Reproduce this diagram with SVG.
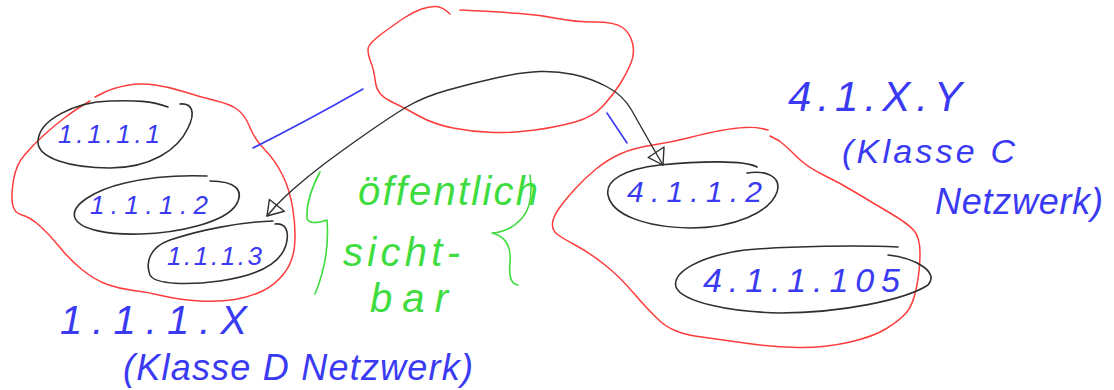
<svg xmlns="http://www.w3.org/2000/svg" width="1114" height="390" viewBox="0 0 1114 390">
  <style>
    .net { fill: none; stroke: #ff3c3c; stroke-width: 1.5; stroke-linecap: round; stroke-linejoin: round; }
    .host { fill: none; stroke: #2f2f2f; stroke-width: 1.6; stroke-linecap: round; stroke-linejoin: round; }
    .link { fill: none; stroke: #3a3af2; stroke-width: 1.6; stroke-linecap: round; }
    .route { fill: none; stroke: #2f2f2f; stroke-width: 1.4; stroke-linecap: round; stroke-linejoin: round; }
    .brace { fill: none; stroke: #3fdc3f; stroke-width: 1.6; stroke-linecap: round; stroke-linejoin: round; }
    .ip { font-family: "Liberation Sans", Arial, sans-serif; font-style: italic; fill: #3a3af2; }
    .note { font-family: "Liberation Sans", Arial, sans-serif; font-style: italic; fill: #3fdc3f; }
  </style>
  <defs>
    <marker id="open-head" markerUnits="userSpaceOnUse" markerWidth="30" markerHeight="30" viewBox="-20 -15 30 30" refX="0" refY="0" orient="auto-start-reverse">
      <path d="M0,0 L-15,-10 L-14,9 Z" fill="none" stroke="#2f2f2f" stroke-width="1.4" stroke-linejoin="round"/>
    </marker>
  </defs>

  <!-- left network 1.1.1.X -->
  <g id="net-1-1-1-x">
    <path class="net" d="M95,97 L104,92.5 Q113,88 126.5,85.5 Q140,83 155,85 Q170,87 185,92 Q200,97 215,100.5 Q230,104 237.5,109.5 Q245,115 250,127.5 Q255,140 265,150 Q275,160 282.5,175 Q290,190 293,210 Q296,230 294.5,246 Q293,262 284,273.5 Q275,285 262.5,291 Q250,297 235,299.5 Q220,302 200,301 Q180,300 163.5,296 Q147,292 133.5,290.5 Q120,289 107.5,284.5 Q95,280 82.5,270 Q70,260 60,247.5 Q50,235 40,226 Q30,217 22,215 Q14,213 12.5,204 Q11,195 13.5,180 Q16,165 24.5,155 Q33,145 44,135 Q55,125 65,117.5 Q75,110 82.5,105.5 L90,101"/>
    <text class="ip" x="60" y="334" font-size="40" textLength="187" lengthAdjust="spacing">1.1.1.X</text>
    <text class="ip" x="123" y="380" font-size="36" textLength="350" lengthAdjust="spacing">(Klasse D Netzwerk)</text>
  </g>

  <g id="host-1-1-1-1">
    <path class="host" d="M180,104 C192,103 196,112 188,128 C178,150 150,168 110,168 C70,168 38,158 38,142 C38,120 75,102 110,101 C135,100 152,101 168,107"/>
    <text class="ip" x="58" y="143" font-size="26" textLength="102" lengthAdjust="spacing">1.1.1.1</text>
  </g>
  <g id="host-1-1-1-2">
    <path class="host" d="M207,176 C180,175 150,177 125,183 C95,190 70,205 75,218 C80,230 110,235 140,234 C180,233 225,222 236,205 C245,190 235,181 210,181"/>
    <text class="ip" x="90" y="214" font-size="26" textLength="118" lengthAdjust="spacing">1.1.1.2</text>
  </g>
  <g id="host-1-1-1-3">
    <path class="host" d="M273,221 C240,222 200,230 170,240 C150,247 145,262 150,275 C155,285 190,285 220,281 C255,276 280,265 286,245 C290,230 285,223 275,224"/>
    <text class="ip" x="167" y="265" font-size="26" textLength="95" lengthAdjust="spacing">1.1.1.3</text>
  </g>

  <!-- public network in the middle -->
  <g id="net-public">
    <path class="net" d="M450,14 Q443,7 436.5,6.5 Q430,6 421.5,9 Q413,12 404,18 Q395,24 381.5,34 Q368,44 368,49.5 Q368,55 371,62.5 Q374,70 375.5,82.5 Q377,95 391,101.5 Q405,108 419,116 Q433,124 453,128 Q473,132 493,132.5 Q513,133 535,130 Q557,127 575,122 Q593,117 603,106 Q613,95 620,84 Q627,73 631,63 Q635,53 632.5,43 Q630,33 622.5,27.5 Q615,22 595,22 Q575,22 557.5,18.5 Q540,15 520,13.5 Q500,12 480,11 L460,10"/>
  </g>

  <g id="public-note">
    <path class="brace" d="M320,172 Q306,198 307,218 Q309,226 327,220 Q330,258 315,294"/>
    <path class="brace" d="M530,175 Q534,205 522,218 Q510,232 492,233 Q512,238 510,262 Q508,284 518,285"/>
    <text class="note" x="358" y="205" font-size="40" textLength="180" lengthAdjust="spacing">öffentlich</text>
    <text class="note" x="343" y="266" font-size="40" textLength="117" lengthAdjust="spacing">sicht-</text>
    <text class="note" x="370" y="312" font-size="40" textLength="78" lengthAdjust="spacing">bar</text>
  </g>

  <!-- right network 4.1.X.Y -->
  <g id="net-4-1-x-y">
    <path class="net" d="M768,130 L761.5,128.5 Q755,127 745,127.5 Q735,128 721,130.5 Q707,133 690,137.5 Q673,142 653,145 Q633,148 620,154 Q607,160 596,169 Q585,178 575,189 Q565,200 559,208.5 Q553,217 552.5,223.5 Q552,230 557,234 Q562,238 576,245.5 Q590,253 605,265 Q620,277 634,293.5 Q648,310 660.5,321.5 Q673,333 698,336.5 Q723,340 748,343.5 Q773,347 798,347.5 Q823,348 848,342.5 Q873,337 886.5,328.5 Q900,320 906.5,312.5 Q913,305 916.5,287.5 Q920,270 920,253.5 Q920,237 913.5,230 Q907,223 890,213 Q873,203 856.5,193 Q840,183 823.5,175 Q807,167 797,157 Q787,147 779.5,141 L770,136"/>
    <text class="ip" x="788" y="111" font-size="42" textLength="174" lengthAdjust="spacing">4.1.X.Y</text>
    <text class="ip" x="842" y="163" font-size="34" textLength="173" lengthAdjust="spacing">(Klasse C</text>
    <text class="ip" x="935" y="214" font-size="36" textLength="168" lengthAdjust="spacing">Netzwerk)</text>
  </g>

  <g id="host-4-1-1-2">
    <path class="host" d="M757,167 C745,160 700,161 660,165 C625,169 605,180 608,195 C612,215 645,227 690,228 C735,228 770,212 777,192 C782,176 765,170 747,173"/>
    <text class="ip" x="627" y="202" font-size="30" textLength="135" lengthAdjust="spacing">4.1.1.2</text>
  </g>
  <g id="host-4-1-1-105">
    <path class="host" d="M898,247 C860,245 790,246 745,250 C700,256 672,272 676,287 C682,302 730,312 780,313 C840,313 905,300 928,285 C940,272 915,258 888,255"/>
    <text class="ip" x="703" y="292" font-size="34" textLength="197" lengthAdjust="spacing">4.1.1.105</text>
  </g>

  <!-- uplinks and the route across the public network -->
  <g id="connectors">
    <path class="link" d="M253,148 Q305,122 363,89"/>
    <path class="link" d="M607,113 L627,143"/>
    <path class="route" marker-start="url(#open-head)" marker-end="url(#open-head)" d="M267,216 L273.5,208.5 Q280,201 293.5,189 Q307,177 323.5,164.5 Q340,152 365,134.5 Q390,117 406.5,107 Q423,97 448,90 Q473,83 498,77.5 Q523,72 540,71.5 Q557,71 573.5,74.5 Q590,78 606.5,86.5 Q623,95 631.5,110 Q640,125 646.5,136.5 Q653,148 658,156.5 L663,165"/>
  </g>
</svg>
